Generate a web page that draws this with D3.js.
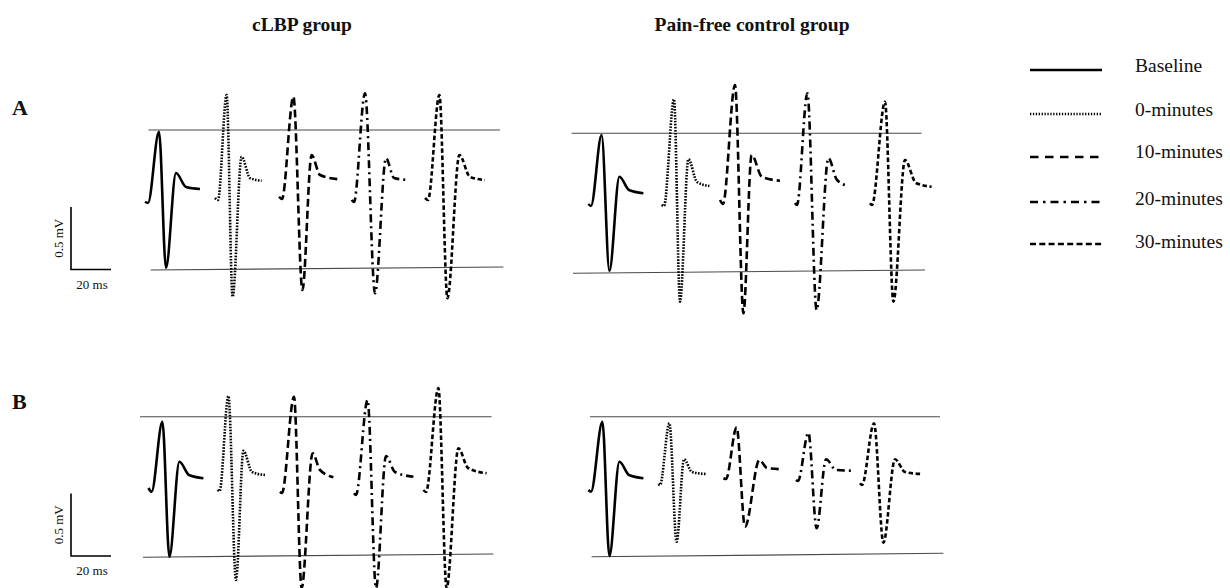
<!DOCTYPE html>
<html>
<head>
<meta charset="utf-8">
<script src="https://cdn.jsdelivr.net/npm/d3@7"></script>
<style>
  html, body { margin: 0; padding: 0; background: #fff; }
  svg { display: block; }
  text { font-family: "Liberation Serif", "Times New Roman", serif; fill: #111; }
</style>
</head>
<body>
<svg id="chart" width="1230" height="588"></svg>
<script>
// Motor evoked potential traces, time in ms and amplitude in mV.
const conditions = ["Baseline", "0-minutes", "10-minutes", "20-minutes", "30-minutes"];
const groups = ["cLBP group", "Pain-free control group"];
const rowLabels = ["A", "B"];
const scaleBarMV = 0.5;
const scaleBarMS = 20;
const scaleBarLabels = ["0.5 mV", "20 ms"];

// Row A, cLBP group: one trace per condition, points [ms, mV]
const traceA_cLBP = [
  [[2.5, -0.014], [4, -0.024], [9.5, 0.546], [13, -0.544], [18, 0.216], [23, 0.104], [30, 0.088]],
  [[37.5, 0.016], [39, 0], [43.3, 0.84], [46.3, -0.774], [50.8, 0.346], [55, 0.176], [60.8, 0.154]],
  [[69.5, 0.026], [71, 0.008], [76.7, 0.826], [81.2, -0.72], [85.8, 0.36], [90, 0.2], [99.2, 0.166]],
  [[105.8, 0], [107, -0.016], [112.5, 0.854], [117.5, -0.746], [123, 0.334], [127, 0.176], [134, 0.16]],
  [[142.5, 0.016], [144, 0], [149.7, 0.84], [153.7, -0.786], [159.7, 0.36], [165, 0.184], [172.5, 0.16]]
];
// Row A, pain-free control group
const traceA_control = [
  [[4.2, -0.032], [5.5, -0.048], [10.8, 0.52], [14.7, -0.566], [19.7, 0.186], [24.5, 0.08], [31.7, 0.054]],
  [[40.8, -0.04], [42, -0.048], [47, 0.806], [50, -0.814], [54.2, 0.326], [58.5, 0.144], [64.7, 0.112]],
  [[70, 0], [71.5, -0.032], [77.5, 0.92], [81.7, -0.906], [85.8, 0.36], [91, 0.184], [100, 0.154]],
  [[107.5, -0.024], [108.5, -0.04], [113.7, 0.854], [118.3, -0.88], [124.2, 0.334], [128.5, 0.16], [134.2, 0.112]],
  [[145, -0.026], [146, -0.04], [152.5, 0.786], [156.7, -0.814], [162.5, 0.32], [168, 0.136], [175.8, 0.106]]
];
// Row B, cLBP group
const traceB_cLBP = [
  [[4.2, 0], [5.8, -0.03], [11.2, 0.53], [14.7, -0.55], [19.7, 0.21], [24.5, 0.104], [31.7, 0.078]],
  [[38.7, -0.016], [39.8, -0.024], [44.2, 0.736], [48, -0.736], [51.7, 0.298], [56, 0.128], [62.5, 0.104]],
  [[70, -0.03], [71, -0.04], [77, 0.73], [80.8, -0.8], [86.3, 0.278], [90, 0.144], [96.7, 0.086]],
  [[107, -0.042], [108, -0.056], [113.8, 0.704], [118, -0.8], [123, 0.256], [127.5, 0.128], [136.7, 0.09]],
  [[141.7, -0.016], [143, -0.032], [149.2, 0.8], [153.3, -0.8], [159.2, 0.318], [164, 0.16], [173.3, 0.118]]
];
// Row B, pain-free control group
const traceB_control = [
  [[4.2, -0.016], [5.5, -0.03], [11.2, 0.53], [14.7, -0.544], [19.7, 0.21], [24.5, 0.104], [31.7, 0.078]],
  [[39.2, 0.032], [40, 0.024], [44.7, 0.518], [48.3, -0.43], [52, 0.23], [56, 0.128], [63, 0.112]],
  [[71.7, 0.078], [73, 0.072], [78.3, 0.486], [82.5, -0.31], [89.7, 0.224], [93.5, 0.16], [100.3, 0.15]],
  [[108, 0.064], [109, 0.056], [114.2, 0.442], [118.3, -0.322], [123, 0.23], [128, 0.144], [136.7, 0.138]],
  [[140, 0.038], [141, 0.024], [147, 0.518], [151.7, -0.438], [157.5, 0.23], [162.5, 0.128], [170.8, 0.112]]
];

// Reference levels (baseline peak and trough) per panel: [[ms, mV], [ms, mV]]
const refA_cLBP = [[[4.2, 0.56], [180, 0.56]], [[5.3, -0.56], [181.7, -0.536]]];
const refA_control = [[[-4.2, 0.534], [170.8, 0.534]], [[-3.5, -0.586], [172.5, -0.56]]];
const refB_cLBP = [[[0, 0.57], [175.8, 0.57]], [[1.5, -0.554], [176.7, -0.528]]];
const refB_control = [[[5, 0.57], [180, 0.57]], [[5.8, -0.55], [181.7, -0.522]]];

// ---- drawing ----
const svg = d3.select("#chart");
svg.append("rect").attr("width", 1230).attr("height", 588).attr("fill", "#fff");

const styles = {
  "Baseline":   { dash: null,        width: 2.6 },
  "0-minutes":  { dash: "1.6,1.4",   width: 2.6 },
  "10-minutes": { dash: "8,4",       width: 2.6 },
  "20-minutes": { dash: "8,4,2,4",   width: 2.6 },
  "30-minutes": { dash: "4.5,2.6",   width: 2.6 }
};

const PX_PER_MS = 2, PX_PER_MV = 125;
const colX = [140, 580];
const rowY = [200, 488];

const panels = [
  { row: 0, col: 0, traces: traceA_cLBP, refs: refA_cLBP },
  { row: 0, col: 1, traces: traceA_control, refs: refA_control },
  { row: 1, col: 0, traces: traceB_cLBP, refs: refB_cLBP },
  { row: 1, col: 1, traces: traceB_control, refs: refB_control }
];

panels.forEach(p => {
  const x = d3.scaleLinear().domain([0, 100]).range([colX[p.col], colX[p.col] + 100 * PX_PER_MS]);
  const y = d3.scaleLinear().domain([-1, 1]).range([rowY[p.row] + PX_PER_MV, rowY[p.row] - PX_PER_MV]);
  const g = svg.append("g");

  const straight = d3.line().x(d => x(d[0])).y(d => y(d[1]));
  g.selectAll("path.ref").data(p.refs).join("path")
    .attr("class", "ref")
    .attr("d", straight)
    .attr("fill", "none")
    .attr("stroke", "#4a4a4a")
    .attr("stroke-width", 1.2);

  const curve = d3.line().x(d => x(d[0])).y(d => y(d[1])).curve(d3.curveMonotoneX);
  g.selectAll("path.trace").data(p.traces).join("path")
    .attr("class", "trace")
    .attr("d", curve)
    .attr("fill", "none")
    .attr("stroke", "#000")
    .attr("stroke-width", (d, i) => styles[conditions[i]].width)
    .attr("stroke-dasharray", (d, i) => styles[conditions[i]].dash)
    .attr("stroke-linejoin", "round");
});

// Group titles
const titleX = [302, 752];
groups.forEach((t, i) => {
  svg.append("text").attr("x", titleX[i]).attr("y", 31)
    .attr("text-anchor", "middle").attr("font-weight", "bold").attr("font-size", 19.5)
    .text(t);
});

// Row labels
const rowLabelY = [115, 409];
rowLabels.forEach((t, i) => {
  svg.append("text").attr("x", 12).attr("y", rowLabelY[i])
    .attr("font-weight", "bold").attr("font-size", 22)
    .text(t);
});

// Scale bars
const barBottom = [269.5, 556];
barBottom.forEach((yb, i) => {
  const ys = d3.scaleLinear().domain([0, 1]).range([yb, yb - PX_PER_MV]);
  const xs = d3.scaleLinear().domain([0, 100]).range([71, 71 + 100 * PX_PER_MS]);
  const g = svg.append("g");
  g.append("path")
    .attr("d", `M${xs(0)},${ys(scaleBarMV)}V${ys(0)}H${xs(scaleBarMS)}`)
    .attr("fill", "none").attr("stroke", "#000").attr("stroke-width", 1.6);
  g.append("text")
    .attr("transform", `translate(63,${(ys(0) + ys(scaleBarMV)) / 2}) rotate(-90)`)
    .attr("text-anchor", "middle").attr("font-size", 13)
    .text(scaleBarLabels[0]);
  g.append("text")
    .attr("x", (xs(0) + xs(scaleBarMS)) / 2 + 1).attr("y", ys(0) + 19)
    .attr("text-anchor", "middle").attr("font-size", 13)
    .text(scaleBarLabels[1]);
});

// Legend
const legendY = [70, 114, 157, 202, 244];
const legendTextY = [71.5, 116, 157.5, 205, 248];
const lg = svg.append("g");
conditions.forEach((c, i) => {
  lg.append("line")
    .attr("x1", 1030).attr("x2", 1102)
    .attr("y1", legendY[i]).attr("y2", legendY[i])
    .attr("stroke", "#000").attr("stroke-width", 2.4)
    .attr("stroke-dasharray", c === "0-minutes" ? "1.3,1.6" : (c === "10-minutes" ? "8.5,6.5" : (c === "20-minutes" ? "8,5,2.5,5" : (c === "30-minutes" ? "6,3.3" : null))));
  lg.append("text").attr("x", 1135).attr("y", legendTextY[i])
    .attr("font-size", 19.5).text(c);
});
</script>
</body>
</html>
